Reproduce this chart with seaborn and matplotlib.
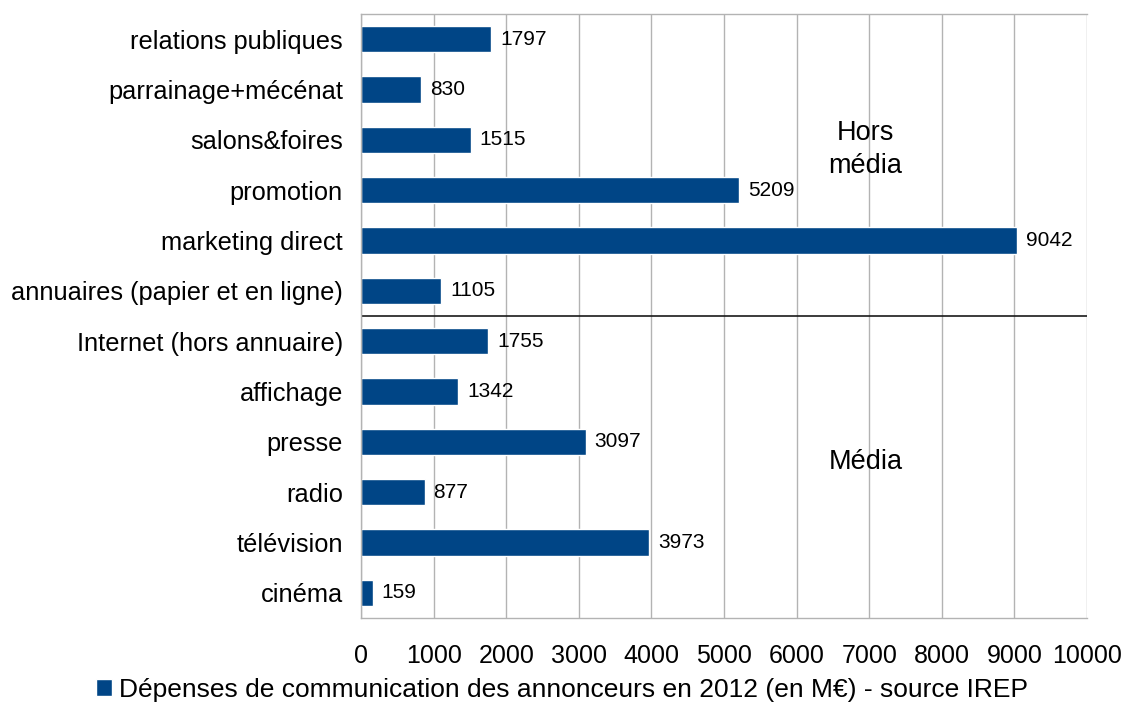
import matplotlib
matplotlib.use("Agg")
import matplotlib.pyplot as plt
import seaborn as sns
import pandas as pd
from matplotlib.ticker import FixedLocator

categories = ["relations publiques", "parrainage+mécénat", "salons&foires", "promotion",
              "marketing direct", "annuaires (papier et en ligne)", "Internet (hors annuaire)",
              "affichage", "presse", "radio", "télévision", "cinéma"]
values = [1797, 830, 1515, 5209, 9042, 1105, 1755, 1342, 3097, 877, 3973, 159]
xticks = [0, 1000, 2000, 3000, 4000, 5000, 6000, 7000, 8000, 9000, 10000]
legend_label = "Dépenses de communication des annonceurs en 2012 (en M€) - source IREP"
group_labels = ["Hors\nmédia", "Média"]

sns.set_theme(style="white")
plt.rcParams['font.family'] = ['Liberation Sans', 'DejaVu Sans']
plt.rcParams['text.color'] = 'black'

df = pd.DataFrame({"cat": categories, "val": values})
color = "#004586"
grid_c = "#b3b3b3"

fig = plt.figure(figsize=(11.25, 7.15), dpi=100)
ax = fig.add_axes([361/1125, 1-618/715, (1087-361)/1125, (618-14)/715])
sns.barplot(data=df, x="val", y="cat", order=categories, color=color, width=0.52,
            saturation=1, ax=ax, label=legend_label, legend=False)

ax.set_xlim(0, 10000)
ax.set_ylim(len(categories) - 0.5, -0.5)
ax.set_xticks(xticks)
ax.set_xticklabels([str(t) for t in xticks], fontsize=18)
ax.set_xlabel("")
ax.set_ylabel("")
ax.tick_params(axis='x', length=10, width=1, color=grid_c, pad=9, labelcolor="black")
ax.tick_params(axis='y', which='major', length=0, pad=13, labelsize=18.3, labelcolor="black")
ax.yaxis.set_minor_locator(FixedLocator([i - 0.5 for i in range(len(categories) + 1)]))
ax.tick_params(axis='y', which='minor', length=8, width=1, color=grid_c)
ax.grid(axis='x', color=grid_c, linewidth=1)
ax.set_axisbelow(True)
for s in ["top", "bottom", "left", "right"]:
    ax.spines[s].set_color(grid_c)
    ax.spines[s].set_linewidth(1)
ax.spines["right"].set_visible(False)

for i, v in enumerate(values):
    ax.text(v + 120, i, str(v), va="center", ha="left", fontsize=15, color="black")

ax.axhline(5.5, color="#1a1a1a", linewidth=1.2)
ax.text(6950, 2.2, group_labels[0], ha="center", va="center", fontsize=19.5,
        linespacing=1.35, color="black")
ax.text(6950, 8.4, group_labels[1], ha="center", va="center", fontsize=19.5, color="black")

handles, labels = ax.get_legend_handles_labels()
fig.legend(handles[:1], [legend_label], loc="center", bbox_to_anchor=(562/1125, 1-690/715),
           frameon=False, fontsize=19, handlelength=0.6, handleheight=0.6,
           handletextpad=0.25, borderaxespad=0, labelcolor="black")

fig.savefig("out.png", dpi=100)
